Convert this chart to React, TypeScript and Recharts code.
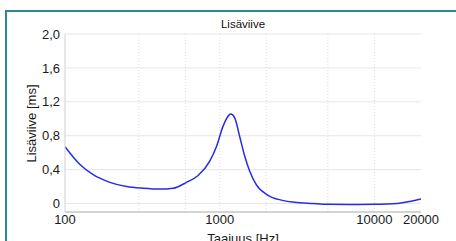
import React from "react";
import { LineChart, Line, XAxis, YAxis, CartesianGrid } from "recharts";

// frequency (Hz) and extra delay (ms)
const freqs = [100, 125, 152, 195, 250, 320, 410, 500, 610, 725, 862, 952, 1050, 1132, 1178, 1250, 1346, 1450, 1563, 1726, 2040, 2500, 3035, 4000, 5000, 7000, 10000, 14000, 17000, 20000];
const delays = [0.67, 0.46, 0.34, 0.25, 0.2, 0.18, 0.17, 0.18, 0.25, 0.33, 0.5, 0.67, 0.91, 1.03, 1.055, 1.01, 0.79, 0.56, 0.38, 0.22, 0.1, 0.04, 0.015, 0.0, -0.01, -0.012, -0.01, 0.0, 0.025, 0.055];

const xTicks = [100, 1000, 10000, 20000];
const xMinor = [200, 300, 400, 500, 600, 700, 800, 900, 1000, 2000, 3000, 4000, 5000, 6000, 7000, 8000, 9000, 10000];
const yTicks = [0, 0.4, 0.8, 1.2, 1.6, 2.0];
const yGrid = [0, 0.2, 0.4, 0.6, 0.8, 1.0, 1.2, 1.4, 1.6, 1.8, 2.0];

const data = freqs.map((f, i) => ({ f, d: delays[i] }));

const font = "'Liberation Sans', Arial, sans-serif";
const fmtY = (v: number) => (v === 0 ? "0" : v.toFixed(1).replace(".", ","));

export default function App() {
  return (
    <div style={{ position: "absolute", left: 0, top: 0, width: 456, height: 241, overflow: "hidden", background: "#fff", fontFamily: font }}>
      <div style={{ position: "absolute", left: 5, top: 10, width: 470, height: 260, borderLeft: "2px solid #2b8a8e", borderTop: "2px solid #2b8a8e" }} />
      <LineChart width={456} height={241} data={data} margin={{ top: 34, right: 35, bottom: 0, left: 0 }} style={{ position: "absolute", left: 0, top: 0 }}>
        <CartesianGrid horizontal={true} vertical={false} horizontalValues={yGrid} stroke="#e6e6e6" />
        <CartesianGrid horizontal={false} vertical={true} verticalValues={xMinor} stroke="#dcdcdc" strokeDasharray="1 2" />
        <XAxis
          dataKey="f"
          type="number"
          scale="log"
          domain={[100, 20000]}
          ticks={xTicks}
          allowDataOverflow
          height={29}
          tickLine={false}
          tickSize={0}
          axisLine={{ stroke: "#a8a8a8" }}
          tick={{ fontSize: 13, fill: "#1a1a1a", fontFamily: font }}
          tickMargin={3}
        />
        <XAxis xAxisId="top" orientation="top" dataKey="f" type="number" scale="log" domain={[100, 20000]} ticks={[]} height={0} tickLine={false} axisLine={{ stroke: "#dddddd" }} tick={false} />
        <YAxis
          type="number"
          domain={[-0.1, 2]}
          ticks={yTicks}
          allowDataOverflow
          width={65}
          tickLine={false}
          tickSize={0}
          axisLine={{ stroke: "#d0d0d0" }}
          tickFormatter={fmtY}
          tick={{ fontSize: 13, fill: "#1a1a1a", fontFamily: font }}
          tickMargin={5}
        />
        <YAxis yAxisId="r" orientation="right" type="number" domain={[-0.1, 2]} ticks={yGrid} width={0} tickLine={{ stroke: "#b0b0b0" }} tickSize={-3} axisLine={{ stroke: "#b0b0b0" }} tick={false} />
        <Line type="monotone" dataKey="d" stroke="#2a2ae6" strokeWidth={1.5} dot={false} isAnimationActive={false} />
      </LineChart>
      <div style={{ position: "absolute", left: 143, width: 200, top: 18, textAlign: "center", fontSize: 11.5, color: "#111" }}>Lisäviive</div>
      <div style={{ position: "absolute", left: 143, width: 200, top: 231, textAlign: "center", fontSize: 13, color: "#1a1a1a" }}>Taajuus [Hz]</div>
      <div style={{ position: "absolute", left: 31, top: 124, width: 0, height: 0 }}>
        <div style={{ position: "absolute", left: -60, top: -8, width: 120, textAlign: "center", fontSize: 13, color: "#1a1a1a", transform: "rotate(-90deg)", whiteSpace: "nowrap" }}>Lisäviive [ms]</div>
      </div>
    </div>
  );
}
